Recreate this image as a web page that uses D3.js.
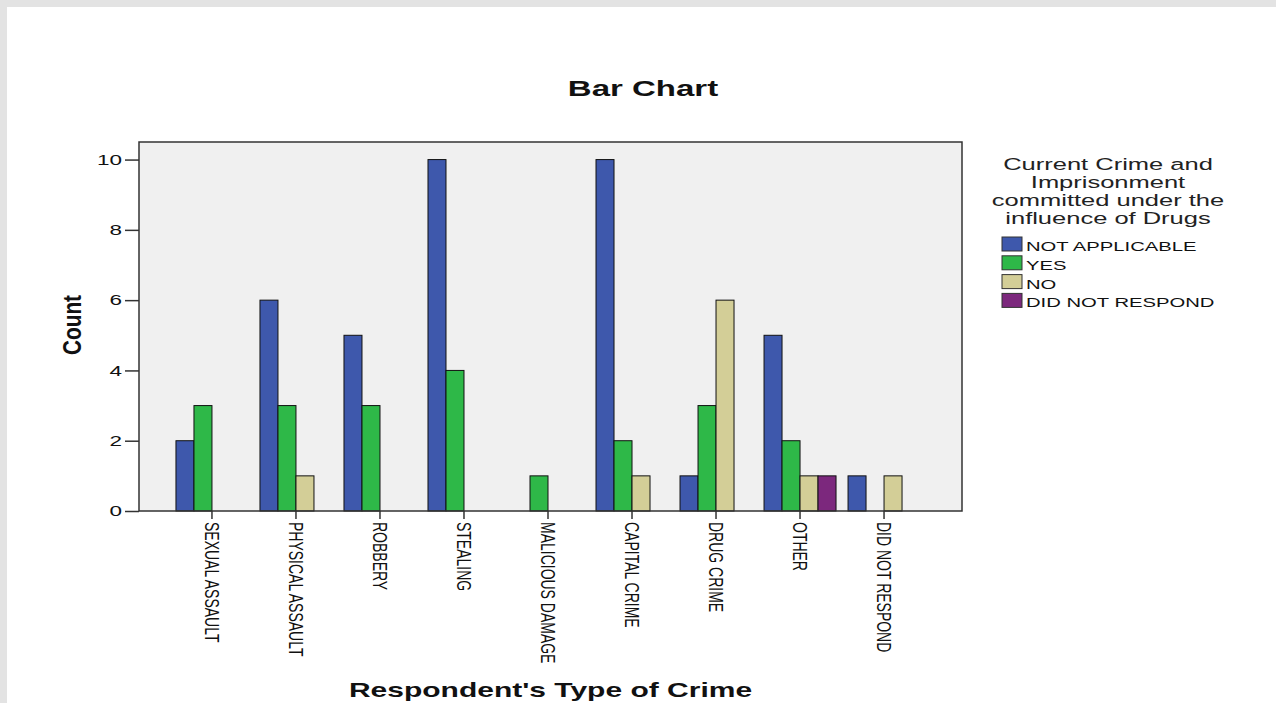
<!DOCTYPE html>
<html>
<head>
<meta charset="utf-8">
<script src="https://cdn.jsdelivr.net/npm/d3@7"></script>
<style>
  body { margin: 0; background: #e3e3e3; }
  svg { display: block; font-family: "Liberation Sans", Arial, sans-serif; }
</style>
</head>
<body>
<div id="chart"></div>
<script>
// data
const crimeTypes = ['SEXUAL ASSAULT', 'PHYSICAL ASSAULT', 'ROBBERY', 'STEALING', 'MALICIOUS DAMAGE',
                    'CAPITAL CRIME', 'DRUG CRIME', 'OTHER', 'DID NOT RESPOND'];
const drugGroups = ['NOT APPLICABLE', 'YES', 'NO', 'DID NOT RESPOND'];
const notApplicable = [2, 6, 5, 10, 0, 10, 1, 5, 1];
const yes           = [3, 3, 3, 4, 1, 2, 3, 2, 0];
const no            = [0, 1, 0, 0, 0, 1, 6, 1, 1];
const didNotRespond = [0, 0, 0, 0, 0, 0, 0, 1, 0];
const yTicks = [0, 2, 4, 6, 8, 10];
const legendTitle = ['Current Crime and', 'Imprisonment', 'committed under the', 'influence of Drugs'];

const seriesValues = [notApplicable, yes, no, didNotRespond];
const colors = ['#3e58ac', '#2eb848', '#d3ce97', '#7c287d'];

const W = 1276, H = 703;
const plot = {left: 139, right: 962, top: 142, bottom: 511};
const SX = 1.5; // the picture is stretched sideways

const svg = d3.select('#chart').append('svg')
    .attr('width', W).attr('height', H);

svg.append('rect')
    .attr('x', 7).attr('y', 7).attr('width', W - 7).attr('height', H - 7)
    .attr('fill', '#ffffff');

let x0 = d3.scaleBand()
    .domain(crimeTypes)
    .range([plot.left, plot.right - 5])
    .paddingInner(0.143)
    .paddingOuter(0.44);

let x1 = d3.scaleBand()
    .domain(drugGroups)
    .range([0, x0.bandwidth()]);

let y = d3.scaleLinear()
    .domain([0, 10.5])
    .range([plot.bottom, plot.top]);

// plot background
svg.append('rect')
    .attr('x', plot.left).attr('y', plot.top)
    .attr('width', plot.right - plot.left).attr('height', plot.bottom - plot.top)
    .attr('fill', '#f0f0f0');

// bars
let rows = [];
crimeTypes.forEach((c, i) => {
    drugGroups.forEach((g, j) => {
        if (seriesValues[j][i] > 0) rows.push({cat: c, group: g, value: seriesValues[j][i], color: colors[j]});
    });
});

svg.append('g').selectAll('rect')
    .data(rows)
    .join('rect')
    .attr('x', d => x0(d.cat) + x1(d.group))
    .attr('y', d => y(d.value))
    .attr('width', x1.bandwidth())
    .attr('height', d => y(0) - y(d.value))
    .attr('fill', d => d.color)
    .attr('stroke', '#111')
    .attr('stroke-width', 1);

// frame
svg.append('rect')
    .attr('x', plot.left).attr('y', plot.top)
    .attr('width', plot.right - plot.left).attr('height', plot.bottom - plot.top)
    .attr('fill', 'none')
    .attr('stroke', '#333')
    .attr('stroke-width', 1.5);

// y axis
let yAxis = svg.append('g')
    .attr('transform', `translate(${plot.left},0)`)
    .call(d3.axisLeft(y).tickValues(yTicks).tickSize(14).tickPadding(3));
yAxis.select('.domain').remove();
yAxis.selectAll('line').attr('stroke', '#333').attr('stroke-width', 1.5);
yAxis.selectAll('text')
    .attr('x', -17 / SX)
    .attr('transform', `scale(${SX},1)`)
    .attr('font-size', 15)
    .attr('font-family', '"Liberation Sans", Arial, sans-serif')
    .attr('fill', '#111');

// x axis
let xAxis = svg.append('g')
    .attr('transform', `translate(0,${plot.bottom})`)
    .call(d3.axisBottom(x0.copy().range(x0.range())).tickSize(8).tickPadding(0));
xAxis.select('.domain').remove();
xAxis.selectAll('line').attr('stroke', '#333').attr('stroke-width', 1.5);
xAxis.selectAll('text')
    .attr('x', 0).attr('y', 0).attr('dy', '0.35em')
    .attr('transform', `translate(0,11) scale(${SX},1) rotate(90)`)
    .attr('text-anchor', 'start')
    .attr('font-size', 14)
    .attr('font-family', '"Liberation Sans", Arial, sans-serif')
    .attr('fill', '#111');

// titles
svg.append('text')
    .attr('transform', `translate(643,96) scale(${SX},1)`)
    .attr('text-anchor', 'middle')
    .attr('font-size', 22).attr('font-weight', 'bold')
    .attr('fill', '#111')
    .text('Bar Chart');

svg.append('text')
    .attr('transform', `translate(${(plot.left + plot.right) / 2},697) scale(${SX},1)`)
    .attr('text-anchor', 'middle')
    .attr('font-size', 20).attr('font-weight', 'bold')
    .attr('fill', '#111')
    .text("Respondent's Type of Crime");

svg.append('text')
    .attr('transform', `translate(72,325) scale(${SX},1) rotate(-90)`)
    .attr('text-anchor', 'middle')
    .attr('dy', '0.35em')
    .attr('font-size', 17).attr('font-weight', 'bold')
    .attr('textLength', 60).attr('lengthAdjust', 'spacingAndGlyphs')
    .attr('fill', '#111')
    .text('Count');

// legend
let legend = svg.append('g');
legend.selectAll('text.ltitle')
    .data(legendTitle)
    .join('text')
    .classed('ltitle', true)
    .attr('transform', (d, i) => `translate(1108,${170 + i * 18}) scale(${SX},1)`)
    .attr('text-anchor', 'middle')
    .attr('font-size', 17)
    .attr('fill', '#222')
    .text(d => d);

let items = legend.selectAll('g.item')
    .data(drugGroups)
    .join('g')
    .classed('item', true)
    .attr('transform', (d, i) => `translate(1002,${237 + i * 18.8})`);

items.append('rect')
    .attr('width', 20).attr('height', 14)
    .attr('fill', (d, i) => colors[i])
    .attr('stroke', '#333').attr('stroke-width', 1);

items.append('text')
    .attr('transform', `translate(24,14) scale(${SX},1)`)
    .attr('font-size', 13.5)
    .attr('fill', '#111')
    .text(d => d);
</script>
</body>
</html>
